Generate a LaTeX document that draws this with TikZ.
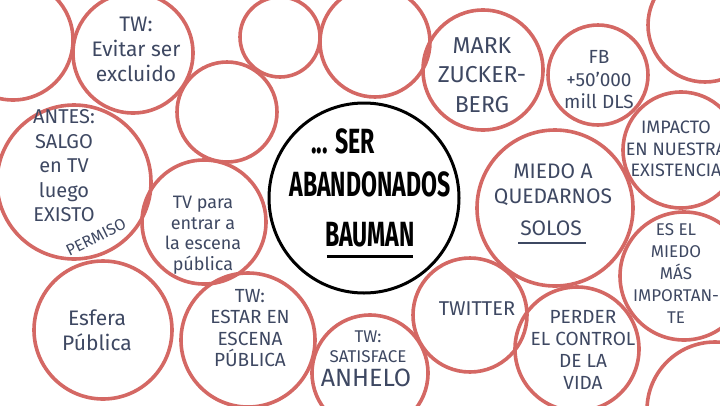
\documentclass[tikz,border=0pt]{standalone}
\usepackage{fontspec}
\setmainfont{Fira Sans}
\newfontfamily\markerfont{Fira Sans}[FakeStretch=0.66]
\definecolor{bubblered}{RGB}{212,104,100}
\definecolor{ink}{RGB}{62,72,98}

\newcommand{\fsz}[2]{\fontsize{#1}{#2}\selectfont}
\tikzset{
  bubble/.style={circle, draw=bubblered, line width=3.6pt, inner sep=0pt},
  hub/.style={circle, draw=black, line width=3pt, inner sep=0pt},
  note/.style={text=ink, align=center, inner sep=0pt},
  marker/.style={text=black, inner sep=0pt, font=\markerfont\bfseries\fsz{35}{42}},
}

\begin{document}
\begin{tikzpicture}[x=1pt,y=-1pt]
\useasboundingbox (0,0) rectangle (720,405);

% bubbles
\node[bubble, minimum size=120pt] (corner-nw) at (13,40) {};
\node[bubble, minimum size=120pt] (evitar) at (133,53) {};
\node[bubble, minimum size=80pt] (blank-a) at (280,37) {};
\node[bubble, minimum size=110pt] (blank-b) at (375,42) {};
\node[bubble, minimum size=120pt] (mark) at (483,70) {};
\node[bubble, minimum size=100pt] (fb) at (598,75) {};
\node[bubble, minimum size=114pt] (corner-ne) at (705,25) {};
\node[bubble, minimum size=116pt] (impacto) at (681,150) {};
\node[bubble, minimum size=156pt] (miedo) at (555,208) {};
\node[bubble, minimum size=128pt] (esel) at (684,276) {};
\node[bubble, minimum size=136pt] (corner-se) at (715,410) {};
\node[bubble, minimum size=124pt] (perder) at (577,349) {};
\node[bubble, minimum size=114pt] (twitter) at (470,315) {};
\node[bubble, minimum size=116pt] (satisface) at (370,373) {};
\node[bubble, minimum size=134pt] (estar) at (248,340) {};
\node[bubble, minimum size=138pt] (esfera) at (103,330) {};
\node[bubble, minimum size=124pt] (tvpara) at (204,222) {};
\node[bubble, minimum size=154pt] (antes) at (74,182) {};
\node[bubble, minimum size=100pt] (blank-c) at (227,112) {};
\node[hub, minimum size=190pt] (centro) at (364,198) {};

% texts
\node[note, font=\fsz{21}{25}] (evitar-t) at (136,49) {TW:\\Evitar ser\\excluido};
\node[note, font=\fsz{20}{24.5}] (antes-t) at (64,166) {ANTES:\\SALGO\\en TV\\luego\\EXISTO};
\node[note, font=\fsz{16}{16}, rotate=26] (permiso) at (96,237) {PERMISO};
\node[note, font=\fsz{18}{20.5}] (tvpara-t) at (203,235) {TV para\\entrar a\\la escena\\pública};
\node[note, font=\fsz{23}{29.5}] (mark-t) at (482,75) {MARK\\ZUCKER-\\BERG};
\node[note, font=\fsz{19}{22.5}] (fb-t) at (599,80) {FB\\+50'000\\mill DLS};
\node[note, font=\fsz{18}{21.5}] (impacto-t) at (676,149) {IMPACTO\\EN NUESTRA\\EXISTENCIA};
\node[note, font=\fsz{21}{25}] (miedo-t) at (553,185) {MIEDO A\\QUEDARNOS};
\node[note, font=\fsz{21}{25}] (solos) at (551,228) {SOLOS};
\node[note, font=\fsz{17}{22}] (esel-t) at (676,274) {ES EL\\MIEDO\\MÁS\\IMPORTAN-\\TE};
\node[note, font=\fsz{21}{25}] (esfera-t) at (97,330) {Esfera\\Pública};
\node[note, font=\fsz{19}{21.5}] (estar-t) at (250,328) {TW:\\ESTAR EN\\ESCENA\\PÚBLICA};
\node[note, font=\fsz{17}{20}] (satisface-t) at (368,347) {TW:\\SATISFACE};
\node[note, font=\fsz{25}{25}] (anhelo) at (366,378) {ANHELO};
\node[note, font=\fsz{20}{20}] (twitter-t) at (477,309) {TWITTER};
\node[note, font=\fsz{19}{22}] (perder-t) at (583,350) {PERDER\\EL CONTROL\\DE LA\\VIDA};

\node[marker] (ser) at (343,141) {... SER};
\node[marker] (abandonados) at (370,184) {ABANDONADOS};
\node[marker] (bauman) at (370,235) {BAUMAN};

% underlines
\draw[ink, line width=2.2pt] ([xshift=-2pt,yshift=-7pt]solos.south west) -- ([xshift=4pt,yshift=-7pt]solos.south east);
\draw[black, line width=2.6pt] ([xshift=2pt,yshift=-9pt]bauman.south west) -- ([xshift=-2pt,yshift=-9pt]bauman.south east);
\end{tikzpicture}
\end{document}
